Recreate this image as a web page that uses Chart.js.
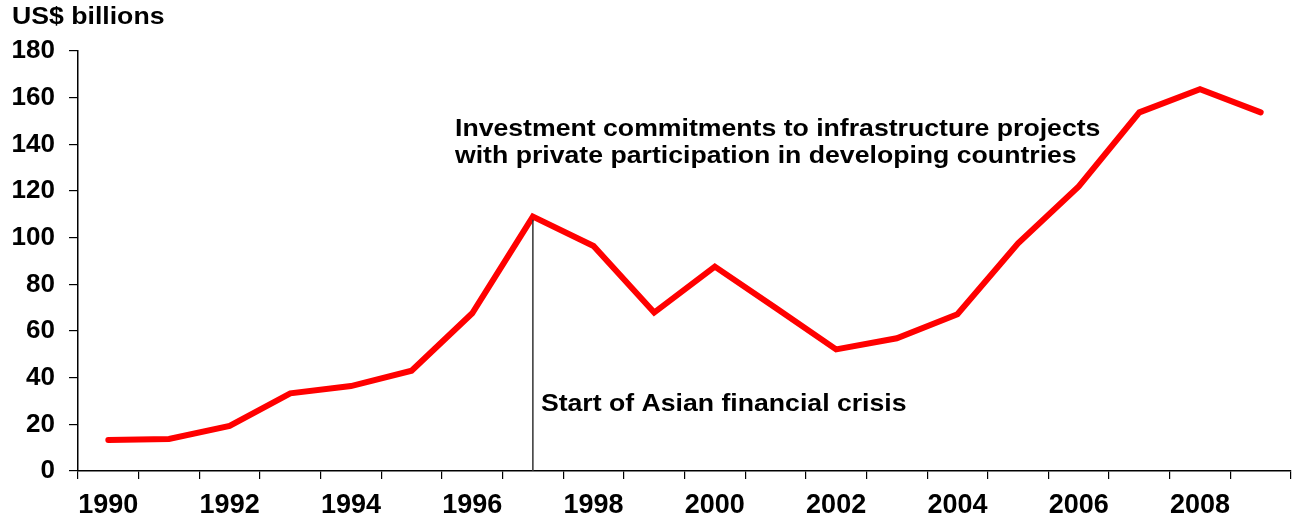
<!DOCTYPE html>
<html>
<head>
<meta charset="utf-8">
<script src="https://cdn.jsdelivr.net/npm/chart.js@4"></script>
<style>
  body { margin: 0; background: #fff; }
  #wrap { width: 1295px; height: 517px; }
</style>
</head>
<body>
<div id="wrap"><canvas id="myChart" width="1295" height="517"></canvas></div>
<script>
// Inversión en infraestructura con participación privada (US$ miles de millones)
const years = ['1990','1991','1992','1993','1994','1995','1996','1997','1998','1999',
               '2000','2001','2002','2003','2004','2005','2006','2007','2008','2009'];
const commitments = [13.3, 13.7, 19.3, 33.3, 36.4, 43, 67.6, 109, 96.4, 67.9,
                     87.6, 70, 52.1, 56.9, 67.2, 97.6, 122, 153.7, 163.6, 153.7];
const yTicks = [0, 20, 40, 60, 80, 100, 120, 140, 160, 180];

const unitLabel = 'US$ billions';
const crisisYear = '1997';
const crisisLabel = 'Start of Asian financial crisis';
const noteLines = ['Investment commitments to infrastructure projects',
                   'with private participation in developing countries'];

const FONT = '"Liberation Sans", Arial, sans-serif';

// texto algo ensanchado, como en la gráfica original de Excel
function textoAncho(c, txt, x, y) {
  c.save();
  c.translate(x, y);
  c.scale(1.11, 1);
  c.fillText(txt, 0, 0);
  c.restore();
}

// textos y línea vertical de la crisis
const notas = {
  id: 'notas',
  afterDatasetsDraw(chart) {
    const c = chart.ctx;
    const x = chart.scales.x;
    const y = chart.scales.y;
    const i = years.indexOf(crisisYear);
    const px = x.getPixelForValue(i);

    c.save();
    c.strokeStyle = '#333';
    c.lineWidth = 1.5;
    c.beginPath();
    c.moveTo(px, y.getPixelForValue(commitments[i]) + 3);
    c.lineTo(px, y.getPixelForValue(0));
    c.stroke();

    c.fillStyle = '#000';
    c.textBaseline = 'alphabetic';
    c.textAlign = 'left';
    c.font = 'bold 24px ' + FONT;
    textoAncho(c, crisisLabel, px + 8, y.getPixelForValue(25.8));

    textoAncho(c, noteLines[0], 455, y.getPixelForValue(143.4));
    textoAncho(c, noteLines[1], 455, y.getPixelForValue(132.2));

    textoAncho(c, unitLabel, 12, 24);
    c.restore();
  }
};

new Chart(document.getElementById('myChart'), {
  type: 'line',
  data: {
    labels: years,
    datasets: [{
      label: 'Investment commitments',
      data: commitments,
      borderColor: '#ff0000',
      borderWidth: 6,
      borderJoinStyle: 'miter',
      borderCapStyle: 'round',
      pointRadius: 0,
      tension: 0,
      fill: false
    }]
  },
  options: {
    responsive: false,
    animation: false,
    layout: { padding: { top: 51, right: 4, left: 0, bottom: 0 } },
    plugins: {
      legend: { display: false },
      tooltip: { enabled: false }
    },
    scales: {
      x: {
        offset: true,
        grid: { offset: true, drawOnChartArea: false, tickLength: 8, color: '#000', lineWidth: 1.2 },
        border: { color: '#000', width: 1.5 },
        ticks: {
          autoSkip: false,
          maxRotation: 0,
          padding: 10,
          color: '#000',
          font: { family: FONT, size: 27, weight: 'bold' },
          callback: (v, i) => (i % 2 === 0 ? years[i] : '')
        },
        afterFit: (axis) => { axis.height = 46; }
      },
      y: {
        min: 0,
        max: 180,
        afterBuildTicks: (axis) => { axis.ticks = yTicks.map(v => ({ value: v })); },
        grid: { drawOnChartArea: false, tickLength: 9, color: '#000', lineWidth: 1.2 },
        border: { color: '#000', width: 1.5 },
        ticks: {
          padding: 14,
          color: '#000',
          font: { family: FONT, size: 26, weight: 'bold' }
        },
        afterFit: (axis) => { axis.width = 78; }
      }
    }
  },
  plugins: [notas]
});
</script>
</body>
</html>
